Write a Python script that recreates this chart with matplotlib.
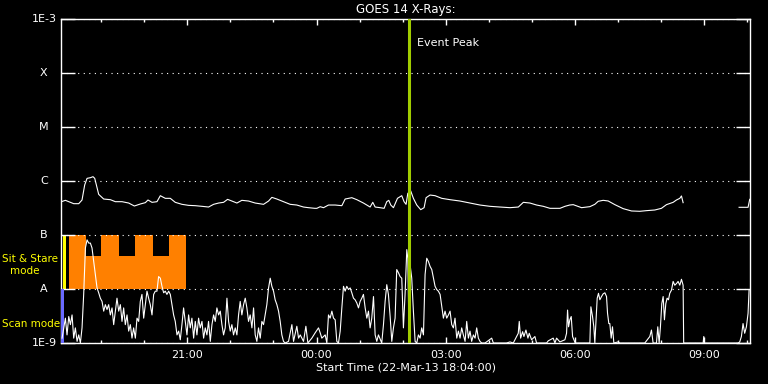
import datetime as dt
import numpy as np
import matplotlib
matplotlib.use("Agg")
import matplotlib.pyplot as plt
import matplotlib.dates as mdates
import matplotlib.transforms as mtransforms

# GOES 14 x-ray plot, 22-Mar-13 18:04 start
start = dt.datetime(2013, 3, 22, 18, 4)
span_min = 960

# long channel (1-8 A): minutes after start, log10 flux
long_t = [0.6, 6.1, 10.8, 17.7, 24.7, 29.3, 33.0, 36.3, 40.9, 44.6, 47.0, 49.3, 52.5, 59.5,
          68.8, 75.7, 85.0, 94.3, 102.2, 110.5, 117.5, 121.2, 126.8, 133.7, 138.4, 145.3,
          152.3, 159.2, 168.5, 177.8, 187.1, 196.4, 205.6, 212.6, 219.6, 226.5, 232.1, 238.1,
          245.1, 252.0, 261.3, 270.6, 282.2, 289.2, 293.8, 300.8, 310.0, 319.3, 328.6, 337.9,
          344.8, 353.7, 356.5, 361.1, 365.8, 372.7, 382.0, 391.3, 395.9, 405.2, 412.2, 421.4,
          430.7, 434.4, 437.7, 444.6, 450.2, 453.9, 456.7, 459.5, 463.2, 468.8, 474.8, 478.0,
          480.8, 483.2, 487.3, 491.0, 495.7, 501.2, 505.9, 508.7, 514.2, 521.2, 530.5, 542.1,
          556.0, 569.9, 583.8, 597.8, 611.7, 625.6, 637.2, 644.2, 653.4, 662.7, 672.0, 681.3,
          695.2, 702.2, 708.7, 713.7, 725.3, 736.9, 743.8, 748.5, 755.4, 762.4, 771.7, 783.3,
          794.9, 806.5, 815.8, 827.4, 836.6, 843.6, 852.9, 857.5, 862.2, 864.5, 866.8, 900.0,
          944.8, 957.3, 959.6]
long_v = [-6.383, -6.358, -6.383, -6.420, -6.420, -6.352, -6.074, -5.951, -5.939, -5.920,
          -5.951, -6.074, -6.247, -6.334, -6.346, -6.383, -6.383, -6.408, -6.463, -6.426,
          -6.401, -6.352, -6.395, -6.383, -6.272, -6.321, -6.321, -6.395, -6.432, -6.451,
          -6.457, -6.469, -6.482, -6.432, -6.408, -6.395, -6.340, -6.371, -6.408, -6.358,
          -6.371, -6.408, -6.432, -6.371, -6.303, -6.334, -6.383, -6.432, -6.445, -6.482,
          -6.494, -6.506, -6.506, -6.476, -6.494, -6.445, -6.445, -6.457, -6.334, -6.309,
          -6.346, -6.408, -6.482, -6.395, -6.482, -6.494, -6.506, -6.383, -6.358, -6.445,
          -6.494, -6.321, -6.272, -6.383, -6.432, -6.229, -6.185, -6.321, -6.445, -6.531,
          -6.494, -6.309, -6.260, -6.272, -6.321, -6.346, -6.371, -6.408, -6.445, -6.469,
          -6.482, -6.494, -6.482, -6.395, -6.408, -6.445, -6.469, -6.506, -6.506, -6.469,
          -6.445, -6.438, -6.494, -6.475, -6.432, -6.376, -6.358, -6.370, -6.438, -6.512,
          -6.555, -6.561, -6.549, -6.537, -6.506, -6.438, -6.395, -6.352, -6.321, -6.277,
          -6.401, np.nan, -6.487, -6.487, -6.339]

# short channel (0.5-4 A)
short_t = [1.5, 3.8, 6.1, 8.4, 10.8, 13.1, 15.4, 17.7, 20.0, 22.4, 24.7, 27.0, 29.3, 31.6,
           34.0, 36.3, 38.6, 40.9, 43.2, 45.6, 47.9, 50.2, 52.5, 54.8, 57.2, 59.5, 61.8, 64.1,
           66.4, 68.8, 71.1, 73.4, 75.7, 78.0, 80.4, 82.7, 85.0, 87.3, 89.6, 92.0, 94.3, 96.6,
           98.9, 101.2, 103.6, 105.9, 108.2, 110.5, 112.8, 115.2, 117.5, 119.8, 122.1, 124.4,
           126.8, 129.1, 131.4, 133.7, 136.0, 138.4, 140.7, 143.0, 145.3, 147.6, 150.0, 152.3,
           154.6, 156.9, 159.2, 161.6, 163.9, 166.2, 168.5, 170.8, 173.2, 175.5, 177.8, 180.1,
           182.4, 184.8, 187.1, 189.4, 191.7, 194.0, 196.4, 198.7, 201.0, 203.3, 205.6, 208.0,
           210.3, 212.6, 214.9, 217.2, 219.6, 221.9, 224.2, 226.5, 228.8, 231.2, 233.5, 235.8,
           238.1, 240.4, 242.8, 245.1, 247.4, 249.7, 252.0, 254.4, 256.7, 259.0, 261.3, 263.6,
           266.0, 268.3, 270.6, 272.9, 275.2, 277.6, 279.9, 282.2, 284.5, 286.8, 289.2, 291.5,
           293.8, 296.1, 298.4, 300.8, 303.1, 305.4, 307.7, 310.0, 312.4, 317.0, 321.7, 324.0,
           328.6, 331.0, 333.3, 337.9, 341.2, 344.0, 349.5, 354.2, 358.8, 361.1, 363.4, 368.1,
           370.4, 372.7, 375.0, 377.4, 379.7, 382.0, 384.3, 386.6, 389.0, 391.3, 393.6, 395.9,
           398.2, 400.6, 402.9, 405.2, 407.5, 409.8, 412.2, 414.5, 416.8, 419.1, 421.4, 423.8,
           426.1, 428.4, 430.7, 433.0, 435.4, 437.7, 440.0, 442.3, 446.9, 449.3, 451.6, 453.9,
           456.2, 458.6, 460.9, 463.2, 465.5, 467.8, 470.2, 472.5, 474.8, 477.1, 479.4, 481.8,
           483.2, 485.0, 486.4, 488.7, 491.0, 493.4, 495.7, 498.0, 500.3, 502.6, 505.0, 507.3,
           509.6, 511.9, 514.2, 516.6, 518.9, 521.2, 523.5, 525.8, 528.2, 530.5, 532.8, 535.1,
           537.4, 539.8, 542.1, 544.4, 546.7, 549.0, 551.4, 553.7, 556.0, 558.3, 560.6, 563.0,
           565.3, 567.6, 569.9, 572.2, 574.6, 576.9, 579.2, 581.5, 583.8, 586.2, 590.8, 600.1,
           602.4, 620.9, 625.5, 630.2, 634.8, 637.1, 638.5, 640.4, 643.2, 645.0, 647.8, 650.6,
           652.4, 655.7, 660.3, 662.6, 676.6, 678.9, 685.8, 688.2, 690.5, 695.1, 702.1, 704.4,
           705.8, 707.2, 709.0, 710.9, 712.8, 714.6, 716.5, 736.9, 738.3, 740.6, 742.4, 743.8,
           745.2, 747.1, 748.9, 750.8, 753.1, 755.4, 757.8, 760.1, 761.5, 763.3, 764.7, 766.6,
           768.4, 770.3, 776.3, 778.6, 813.4, 820.4, 822.7, 825.0, 829.7, 831.5, 833.4, 835.2,
           837.1, 839.0, 840.8, 842.7, 844.5, 846.4, 848.2, 850.6, 852.9, 855.2, 857.5, 859.8,
           862.2, 864.5, 866.8, 867.6, 894.7, 895.6, 896.5, 943.4, 945.7, 948.0, 950.3, 952.6,
           955.0, 957.3, 958.7]
short_v = [-8.91, -8.72, -8.54, -8.85, -8.51, -8.66, -8.48, -8.91, -8.72, -8.97, -8.85, -9.0,
           -8.72, -8.10, -7.24, -7.09, -7.15, -7.15, -7.24, -7.49, -7.73, -7.98, -8.07, -8.17,
           -8.23, -8.41, -8.29, -8.38, -8.29, -8.48, -8.35, -8.66, -8.41, -8.17, -8.41, -8.29,
           -8.60, -8.35, -8.66, -8.48, -8.78, -8.66, -8.91, -8.72, -8.91, -8.54, -8.60, -8.23,
           -8.10, -8.54, -8.29, -8.04, -8.17, -8.29, -8.48, -8.10, -8.04, -8.04, -7.77, -7.80,
           -7.95, -8.07, -8.04, -8.10, -8.04, -8.10, -8.29, -8.48, -8.60, -8.85, -8.78, -8.94,
           -8.66, -8.35, -8.60, -8.85, -8.48, -8.72, -8.54, -8.91, -8.60, -8.85, -8.54, -8.72,
           -8.60, -8.91, -8.72, -8.85, -8.60, -8.97, -8.66, -8.48, -8.60, -8.35, -8.48, -8.41,
           -8.66, -8.85, -8.72, -8.17, -8.60, -8.78, -8.66, -8.85, -8.72, -8.85, -8.48, -8.23,
           -8.48, -8.29, -8.17, -8.35, -8.60, -8.48, -8.72, -8.35, -8.85, -8.97, -8.72, -8.91,
           -8.60, -8.66, -8.48, -8.29, -7.98, -7.80, -7.95, -8.04, -8.20, -8.29, -8.41, -8.60,
           -8.85, -8.97, -9.0, -8.97, -8.66, -8.97, -8.69, -8.91, -8.85, -8.97, -8.69, -9.0,
           -8.91, -8.81, -8.72, -8.81, -8.91, -8.85, -9.0, -8.48, -8.54, -8.41, -8.54, -8.57,
           -8.97, -9.0, -8.78, -8.35, -7.95, -8.04, -7.95, -8.01, -7.98, -8.07, -8.17, -8.20,
           -8.26, -8.35, -8.23, -8.17, -8.10, -8.35, -8.54, -8.41, -8.72, -8.54, -8.14, -8.85,
           -8.97, -8.85, -9.0, -8.66, -8.23, -7.92, -8.10, -8.51, -8.97, -8.72, -8.54, -7.64,
           -7.70, -7.77, -7.80, -8.72, -8.10, -7.27, -7.43, -8.91, -7.55, -7.80, -8.41, -8.97,
           -9.0, -8.85, -8.91, -8.72, -8.85, -7.73, -7.43, -7.49, -7.58, -7.64, -7.80, -7.95,
           -8.01, -8.04, -8.10, -8.32, -8.54, -8.41, -8.54, -8.48, -8.41, -8.66, -8.72, -8.54,
           -8.91, -8.78, -8.91, -8.72, -8.85, -8.97, -8.60, -8.91, -8.78, -8.97, -8.85, -8.91,
           -8.72, -8.91, -8.97, -9.0, -9.0, -8.91, -9.0, -9.0, -8.98, -9.0, -8.88, -8.82,
           -8.60, -8.91, -8.79, -8.88, -8.76, -8.91, -8.82, -8.94, -8.88, -9.0, -9.0, -8.96,
           -8.91, -9.0, -8.91, -8.98, -8.94, -8.82, -8.39, -8.70, -8.57, -8.51, -8.88, -8.94,
           -9.0, -9.0, -8.33, -8.51, -8.70, -9.0, -8.64, -8.17, -8.08, -8.20, -8.14, -8.09,
           -8.07, -8.14, -8.45, -8.64, -8.64, -8.91, -8.70, -9.0, -8.98, -9.0, -9.0, -8.88,
           -8.76, -9.0, -9.0, -8.70, -9.0, -8.70, -8.27, -8.14, -8.57, -8.27, -8.17, -8.20,
           -8.08, -8.02, -7.86, -7.93, -7.90, -7.86, -7.93, -7.82, -7.93, -9.0, -9.0, -8.88,
           -9.0, -9.0, -8.98, -8.88, -8.64, -8.82, -8.70, -8.45, -8.02]

# observing mode bars (minutes after start)
stare_edges = [10.7, 35.4, 56.2, 81.3, 103.6, 128.6, 150.9, 174.6]
stare_top = [-7.0, -7.38, -7.0, -7.38, -7.0, -7.38, -7.0]
stare_marker = [2.4, 7.5]
scan_bar = [0.3, 4.4]
peak_min = 484.6

level_vals = [1e-9, 1e-8, 1e-7, 1e-6, 1e-5, 1e-4, 1e-3]
level_labels = ["1E-9", "A", "B", "C", "M", "X", "1E-3"]


def to_time(mins):
    return [start + dt.timedelta(minutes=float(m)) for m in mins]


plt.rcParams['font.family'] = ['DejaVu Sans']
fig = plt.figure(figsize=(7.68, 3.84), dpi=100, facecolor='black')
ax = fig.add_axes([61 / 768, 41 / 384, 689 / 768, 324 / 384], facecolor='black')
ax.set_yscale('log')

# mode bars
ax.stairs(10 ** np.array(stare_top), to_time(stare_edges), baseline=1e-8, fill=True,
          color='#ff8000', lw=0, zorder=1)
ax.fill_between(to_time(stare_marker), 1e-8, 1e-7, color='#ffff00', lw=0, zorder=1)
ax.fill_between(to_time(scan_bar), 1e-9, 1e-8, color='#6a6aff', lw=0, zorder=2.6)

# flux curves
ax.plot(to_time(long_t), 10 ** np.array(long_v), color='white', lw=0.8, zorder=3)
ax.plot(to_time(short_t), 10 ** np.array(short_v), color='white', lw=0.8, zorder=3)

# event peak
tp = start + dt.timedelta(minutes=peak_min)
ax.axvline(tp, color='#a0cc00', lw=2.2, zorder=4)
ax.text(tp + dt.timedelta(minutes=12), 10 ** -3.44, "Event Peak", color='white',
        fontsize=8, va='center', ha='left')

ax.set_xlim(start, start + dt.timedelta(minutes=span_min))
ax.set_ylim(1e-9, 1e-3)

# axes styling
for s in ax.spines.values():
    s.set_color('white')
    s.set_linewidth(1.0)
ax.set_yticks(level_vals)
ax.set_yticklabels([])
ax.yaxis.set_minor_locator(matplotlib.ticker.NullLocator())
ax.tick_params(axis='y', which='major', direction='in', length=10, width=1.0,
               color='white', left=True, right=True)
ax.grid(axis='y', color='white', linestyle=(0, (1, 4)), lw=0.8)

ax.xaxis.set_major_locator(mdates.HourLocator(byhour=range(0, 24, 3)))
ax.xaxis.set_minor_locator(mdates.HourLocator())
ax.xaxis.set_major_formatter(mdates.DateFormatter('%H:%M'))
ax.tick_params(axis='x', which='major', direction='in', length=4.5, width=1.0,
               color='white', top=True, bottom=True, labelcolor='white', labelsize=8, pad=5)
ax.tick_params(axis='x', which='minor', direction='in', length=2.3, width=1.0,
               color='white', top=True, bottom=True)

# level labels on the left
trans = mtransforms.blended_transform_factory(ax.transAxes, ax.transData)
for v, lab in zip(level_vals, level_labels):
    if lab.startswith("1E"):
        ax.text(-0.006, v, lab, transform=trans, ha='right', va='center', color='white', fontsize=8)
    else:
        ax.text(-0.025, v, lab, transform=trans, ha='center', va='center', color='white', fontsize=8)

# mode labels
fig.text(2 / 768, 1 - 259 / 384, "Sit & Stare", ha='left', va='center', color='#ffff00',
         fontsize=7.5, zorder=0)
fig.text(25 / 768, 1 - 271 / 384, "mode", ha='center', va='center', color='#ffff00', fontsize=7.5)
fig.text(2 / 768, 1 - 324 / 384, "Scan mode", ha='left', va='center', color='#ffff00', fontsize=7.5)

ax.set_title("GOES 14 X-Rays:", color='white', fontsize=8.5, pad=4)
ax.set_xlabel("Start Time (22-Mar-13 18:04:00)", color='white', fontsize=8, labelpad=2)

fig.savefig("out.png", dpi=100, facecolor='black')
